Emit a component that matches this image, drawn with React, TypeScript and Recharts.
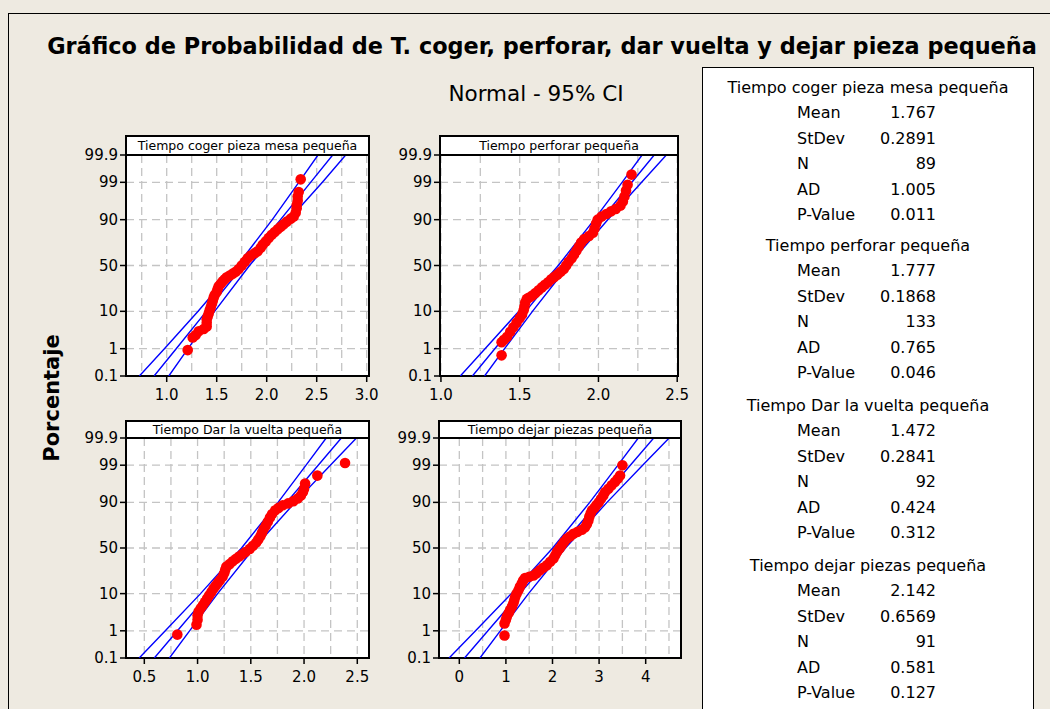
import React from 'react';
import { ScatterChart, Scatter, XAxis, YAxis, CartesianGrid, ReferenceArea } from 'recharts';

const FONT = '"DejaVu Sans", Verdana, sans-serif';
const BG = '#EEEAE1';

// percent scale of the probability axis
const PCT_TICKS = [0.1, 1, 10, 50, 90, 99, 99.9];
// percents where the fitted line and the CI bands are read
const LINE_PCT = [0.1, 1, 10, 50, 90, 99, 99.9];

// Tiempo coger pieza mesa pequeña
const cogerX = [1.21, 1.26, 1.29, 1.32, 1.37, 1.40, 1.40, 1.40, 1.41, 1.42, 1.43, 1.44, 1.45, 1.46, 1.47, 1.48, 1.50, 1.51, 1.52, 1.54, 1.56, 1.58, 1.60, 1.63, 1.66, 1.69, 1.72, 1.75, 1.78, 1.81, 1.84, 1.88, 1.91, 1.94, 1.96, 1.99, 2.02, 2.05, 2.08, 2.11, 2.14, 2.17, 2.20, 2.24, 2.27, 2.29, 2.30, 2.30, 2.31, 2.31, 2.32, 2.34];
const cogerPct = [0.9, 2.2, 2.6, 3.3, 3.8, 4.4, 5.5, 6.6, 7.7, 9, 10.5, 12, 14, 16, 18.5, 20.5, 23, 25.5, 28, 30.5, 33, 35, 37, 39, 41, 43, 46, 50, 54, 58, 61, 63.5, 65.5, 69, 72, 75, 78, 80.5, 82.5, 84.5, 86, 87.5, 89, 90.5, 91.5, 93, 94.5, 95.5, 96.5, 97.3, 98, 99.2];
const cogerFit = [0.874, 1.095, 1.396, 1.767, 2.138, 2.439, 2.66];
const cogerLo = [0.727, 0.977, 1.314, 1.706, 2.056, 2.321, 2.513];
const cogerHi = [1.021, 1.213, 1.479, 1.828, 2.221, 2.557, 2.79];
const cogerTicks = [0.75, 1, 1.25, 1.5, 1.75, 2, 2.25, 2.5, 2.75, 3];
const cogerLabels = [1, 1.5, 2, 2.5, 3];

// Tiempo perforar pequeña
const perforarX = [1.385, 1.385, 1.40, 1.42, 1.44, 1.46, 1.48, 1.50, 1.515, 1.525, 1.53, 1.535, 1.545, 1.56, 1.58, 1.60, 1.62, 1.64, 1.66, 1.68, 1.70, 1.72, 1.74, 1.76, 1.78, 1.795, 1.81, 1.83, 1.845, 1.86, 1.875, 1.89, 1.91, 1.94, 1.965, 1.975, 1.985, 1.995, 2.02, 2.05, 2.08, 2.11, 2.14, 2.155, 2.165, 2.175, 2.185, 2.21];
const perforarPct = [0.6, 1.6, 1.9, 2.3, 3.2, 4.2, 5.5, 7, 8.5, 10.5, 12.5, 15, 17.5, 18.5, 20, 22, 24.5, 27, 29.5, 32, 35, 37.5, 40, 43, 46, 50, 54, 58, 62, 66, 70, 74, 77, 79.5, 82, 85, 88, 90, 91.5, 92.5, 93.5, 94.3, 95.3, 96.3, 97.3, 98.2, 98.8, 99.45];
const perforarFit = [1.2, 1.342, 1.538, 1.777, 2.016, 2.212, 2.354];
const perforarLo = [1.123, 1.28, 1.495, 1.745, 1.973, 2.15, 2.277];
const perforarHi = [1.277, 1.404, 1.581, 1.809, 2.059, 2.274, 2.431];
const perforarTicks = [1, 1.25, 1.5, 1.75, 2, 2.25, 2.5];
const perforarLabels = [1, 1.5, 2, 2.5];

// Tiempo Dar la vuelta pequeña
const vueltaX = [0.81, 0.99, 1.0, 1.0, 1.01, 1.03, 1.05, 1.07, 1.09, 1.11, 1.13, 1.15, 1.17, 1.19, 1.21, 1.235, 1.25, 1.26, 1.27, 1.30, 1.33, 1.36, 1.39, 1.42, 1.45, 1.49, 1.52, 1.55, 1.57, 1.59, 1.605, 1.62, 1.64, 1.66, 1.68, 1.70, 1.73, 1.76, 1.80, 1.85, 1.90, 1.94, 1.97, 1.99, 2.0, 2.01, 2.125, 2.385];
const vueltaPct = [0.75, 1.55, 2.2, 2.9, 3.7, 4.5, 5.4, 6.5, 7.8, 9.2, 10.8, 12.7, 14.5, 16.3, 18.2, 21, 24, 27, 30, 32.5, 35.5, 38, 40.5, 43, 45.5, 49, 52.5, 56, 59.5, 63, 66.5, 70, 73.5, 77, 80.5, 83, 85.5, 87, 88.5, 89.5, 90.6, 91.8, 93, 94.2, 95.2, 96.5, 97.9, 99.15];
const vueltaFit = [0.594, 0.811, 1.108, 1.472, 1.836, 2.133, 2.35];
const vueltaLo = [0.452, 0.697, 1.028, 1.413, 1.756, 2.019, 2.208];
const vueltaHi = [0.736, 0.925, 1.188, 1.531, 1.916, 2.247, 2.492];
const vueltaTicks = [0.5, 0.75, 1, 1.25, 1.5, 1.75, 2, 2.25, 2.5];
const vueltaLabels = [0.5, 1, 1.5, 2, 2.5];

// Tiempo dejar piezas pequeña
const dejarX = [0.97, 0.97, 1.0, 1.02, 1.06, 1.09, 1.13, 1.16, 1.18, 1.20, 1.23, 1.27, 1.30, 1.34, 1.37, 1.41, 1.50, 1.59, 1.66, 1.73, 1.80, 1.88, 1.95, 2.02, 2.06, 2.10, 2.15, 2.20, 2.25, 2.31, 2.38, 2.45, 2.54, 2.63, 2.70, 2.74, 2.77, 2.79, 2.82, 2.85, 2.90, 2.94, 2.99, 3.04, 3.09, 3.13, 3.20, 3.27, 3.34, 3.40, 3.45, 3.50];
const dejarPct = [0.7, 1.7, 2.2, 2.7, 3.4, 4.1, 5.0, 6.0, 7.2, 8.5, 10, 11.8, 13.8, 16, 18, 20, 21, 22, 24, 26.5, 29, 31.5, 35, 38.5, 42, 46, 49.5, 53, 57, 60.5, 63, 65.5, 67.5, 69.6, 72, 75, 78, 81, 83.5, 85.5, 87, 88.5, 90, 91.6, 93, 94.2, 95.2, 96.1, 96.8, 97.4, 97.9, 99.0];
const dejarFit = [0.112, 0.614, 1.3, 2.142, 2.984, 3.67, 4.172];
const dejarLo = [-0.219, 0.349, 1.115, 2.005, 2.799, 3.405, 3.841];
const dejarHi = [0.443, 0.879, 1.485, 2.279, 3.169, 3.935, 4.503];
const dejarTicks = [0, 0.5, 1, 1.5, 2, 2.5, 3, 3.5, 4, 4.5];
const dejarLabels = [0, 1, 2, 3, 4];

const statNames = ['Mean', 'StDev', 'N', 'AD', 'P-Value'];
const statTitles = ['Tiempo coger pieza mesa pequeña', 'Tiempo perforar pequeña', 'Tiempo Dar la vuelta pequeña', 'Tiempo dejar piezas pequeña'];
const statValues = [
  ['1.767', '0.2891', '89', '1.005', '0.011'],
  ['1.777', '0.1868', '133', '0.765', '0.046'],
  ['1.472', '0.2841', '92', '0.424', '0.312'],
  ['2.142', '0.6569', '91', '0.581', '0.127'],
];

// inverse of the standard normal cdf (Acklam)
function probit(p: number): number {
  const a = [-39.69683028665376, 220.9460984245205, -275.9285104469687, 138.357751867269, -30.66479806614716, 2.506628277459239];
  const b = [-54.47609879822406, 161.5858368580409, -155.6989798598866, 66.80131188771972, -13.28068155288572];
  const c = [-0.007784894002430293, -0.3223964580411365, -2.400758277161838, -2.549732539343734, 4.374664141464968, 2.938163982698783];
  const d = [0.007784695709041462, 0.3224671290700398, 2.445134137142996, 3.754408661907416];
  const tail = (q: number) =>
    (((((c[0] * q + c[1]) * q + c[2]) * q + c[3]) * q + c[4]) * q + c[5]) /
    ((((d[0] * q + d[1]) * q + d[2]) * q + d[3]) * q + 1);
  if (p < 0.02425) return tail(Math.sqrt(-2 * Math.log(p)));
  if (p > 1 - 0.02425) return -tail(Math.sqrt(-2 * Math.log(1 - p)));
  const q = p - 0.5;
  const r = q * q;
  return ((((((a[0] * r + a[1]) * r + a[2]) * r + a[3]) * r + a[4]) * r + a[5]) * q) /
    (((((b[0] * r + b[1]) * r + b[2]) * r + b[3]) * r + b[4]) * r + 1);
}
const toZ = (pct: number) => probit(pct / 100);

const YW = 60;
const XH = 34;
const MT = 14;
const MR = 20;

type Frame = { left: number; right: number; top: number; bottom: number; header: number };

interface PanelProps {
  title: string;
  frame: Frame;
  domain: [number, number];
  ticks: number[];
  labels: number[];
  digits: number;
  xs: number[];
  pcts: number[];
  fit: number[];
  lo: number[];
  hi: number[];
}

const ProbPanel: React.FC<PanelProps> = ({ title, frame, domain, ticks, labels, digits, xs, pcts, fit, lo, hi }) => {
  const w = frame.right - frame.left;
  const h = frame.bottom - frame.top;
  const zMin = toZ(PCT_TICKS[0]);
  const zMax = toZ(PCT_TICKS[PCT_TICKS.length - 1]);
  const zTicks = PCT_TICKS.map(toZ);
  const pts = xs.map((x, i) => ({ x, z: toZ(pcts[i]) }));
  const line = (arr: number[]) => arr.map((x, i) => ({ x, z: toZ(LINE_PCT[i]) }));
  const blue = { stroke: '#0000FF', strokeWidth: 1.4 };

  const xTick = (p: any) => {
    const v = p.payload.value;
    const major = labels.some((l) => Math.abs(l - v) < 1e-9);
    if (!major) return <g />;
    return (
      <g>
        <line x1={p.x} x2={p.x} y1={p.y} y2={p.y + 6} stroke="#000" strokeWidth={1.5} />
        <text x={p.x} y={p.y + 19} textAnchor="middle" dominantBaseline="central" fontFamily={FONT} fontSize={15} fill="#000">
          {v.toFixed(digits)}
        </text>
      </g>
    );
  };
  const yTick = (p: any) => {
    const idx = zTicks.findIndex((z) => Math.abs(z - p.payload.value) < 1e-6);
    return (
      <g>
        <line x1={p.x - 6} x2={p.x} y1={p.y} y2={p.y} stroke="#000" strokeWidth={1.5} />
        <text x={p.x - 8} y={p.y} textAnchor="end" dominantBaseline="central" fontFamily={FONT} fontSize={15} fill="#000">
          {PCT_TICKS[idx]}
        </text>
      </g>
    );
  };

  return (
    <>
      <div style={{ position: 'absolute', left: frame.left - YW, top: frame.top - MT }}>
        <ScatterChart width={w + YW + MR} height={h + XH + MT} margin={{ top: MT, right: MR, bottom: 0, left: 0 }}>
          <CartesianGrid stroke="#C4C4C4" strokeWidth={1.3} strokeDasharray="8 5" fill="#FFFFFF" />
          <XAxis
            type="number"
            dataKey="x"
            domain={domain}
            allowDataOverflow
            ticks={ticks}
            interval={0}
            height={XH}
            tickSize={0}
            tickMargin={0}
            axisLine={false}
            tickLine={false}
            tick={xTick}
          />
          <YAxis
            type="number"
            dataKey="z"
            domain={[zMin, zMax]}
            allowDataOverflow
            ticks={zTicks}
            interval={0}
            width={YW}
            tickSize={0}
            tickMargin={0}
            axisLine={false}
            tickLine={false}
            tick={yTick}
          />
          <Scatter data={line(lo)} line={blue} shape={() => null} isAnimationActive={false} />
          <Scatter data={line(fit)} line={blue} shape={() => null} isAnimationActive={false} />
          <Scatter data={line(hi)} line={blue} shape={() => null} isAnimationActive={false} />
          <Scatter
            data={pts}
            isAnimationActive={false}
            shape={(p: any) => <circle cx={p.cx} cy={p.cy} r={5.3} fill="#FF0000" />}
          />
          <ReferenceArea x1={domain[0]} x2={domain[1]} y1={zMin} y2={zMax} fill="none" stroke="#000" strokeWidth={2} ifOverflow="visible" />
        </ScatterChart>
      </div>
      <div
        style={{
          position: 'absolute',
          left: frame.left - 1,
          top: frame.top - frame.header,
          width: w + 2,
          height: frame.header + 1,
          background: '#FFFFFF',
          border: '2px solid #000',
          boxSizing: 'border-box',
          fontFamily: FONT,
          fontSize: 12.5,
          textAlign: 'center',
          lineHeight: `${frame.header - 3}px`,
          whiteSpace: 'nowrap',
        }}
      >
        {title}
      </div>
    </>
  );
};

export default function App() {
  const rowH = 25.4;
  const groupTops = [88, 246, 406, 566];
  return (
    <div style={{ position: 'absolute', left: 0, top: 0, width: 1050, height: 709, background: BG, overflow: 'hidden', fontFamily: FONT }}>
      <div style={{ position: 'absolute', left: 8, top: 13, width: 1100, height: 800, borderLeft: '1px solid #000', borderTop: '1px solid #000' }} />
      <div style={{ position: 'absolute', left: -58, width: 1200, top: 32, textAlign: 'center', fontWeight: 'bold', fontSize: 22.4, lineHeight: '28px', whiteSpace: 'nowrap' }}>
        Gráfico de Probabilidad de T. coger, perforar, dar vuelta y dejar pieza pequeña
      </div>
      <div style={{ position: 'absolute', left: 336, width: 400, top: 81, textAlign: 'center', fontSize: 21.5, lineHeight: '26px' }}>
        Normal - 95% CI
      </div>
      <div
        style={{
          position: 'absolute',
          left: 52 - 100,
          top: 398 - 14,
          width: 200,
          textAlign: 'center',
          fontWeight: 'bold',
          fontSize: 21,
          lineHeight: '28px',
          transform: 'rotate(-90deg)',
        }}
      >
        Porcentaje
      </div>

      <ProbPanel title={statTitles[0]} frame={{ left: 126, right: 369, top: 155, bottom: 376, header: 20 }} domain={[0.593, 3.023]} ticks={cogerTicks} labels={cogerLabels} digits={1} xs={cogerX} pcts={cogerPct} fit={cogerFit} lo={cogerLo} hi={cogerHi} />
      <ProbPanel title={statTitles[1]} frame={{ left: 440, right: 678, top: 155, bottom: 376, header: 20 }} domain={[0.994, 2.505]} ticks={perforarTicks} labels={perforarLabels} digits={1} xs={perforarX} pcts={perforarPct} fit={perforarFit} lo={perforarLo} hi={perforarHi} />
      <ProbPanel title={statTitles[2]} frame={{ left: 126, right: 369, top: 438, bottom: 658, header: 18 }} domain={[0.328, 2.61]} ticks={vueltaTicks} labels={vueltaLabels} digits={1} xs={vueltaX} pcts={vueltaPct} fit={vueltaFit} lo={vueltaLo} hi={vueltaHi} />
      <ProbPanel title="Tiempo dejar piezas pequeña" frame={{ left: 439, right: 681, top: 438, bottom: 658, header: 18 }} domain={[-0.436, 4.758]} ticks={dejarTicks} labels={dejarLabels} digits={0} xs={dejarX} pcts={dejarPct} fit={dejarFit} lo={dejarLo} hi={dejarHi} />

      <div style={{ position: 'absolute', left: 702, top: 67, width: 332, height: 680, background: '#FFFFFF', border: '1.5px solid #000', boxSizing: 'border-box' }} />
      {statTitles.map((t, g) => (
        <React.Fragment key={t}>
          <div style={{ position: 'absolute', left: 668, width: 400, top: groupTops[g] - 10, textAlign: 'center', fontSize: 16, lineHeight: '20px', whiteSpace: 'nowrap' }}>
            {t}
          </div>
          {statNames.map((n, i) => (
            <React.Fragment key={n}>
              <div style={{ position: 'absolute', left: 797, top: groupTops[g] + (i + 1) * rowH - 10, fontSize: 16, lineHeight: '20px' }}>{n}</div>
              <div style={{ position: 'absolute', left: 836, width: 100, top: groupTops[g] + (i + 1) * rowH - 10, textAlign: 'right', fontSize: 16, lineHeight: '20px' }}>
                {statValues[g][i]}
              </div>
            </React.Fragment>
          ))}
        </React.Fragment>
      ))}
    </div>
  );
}
